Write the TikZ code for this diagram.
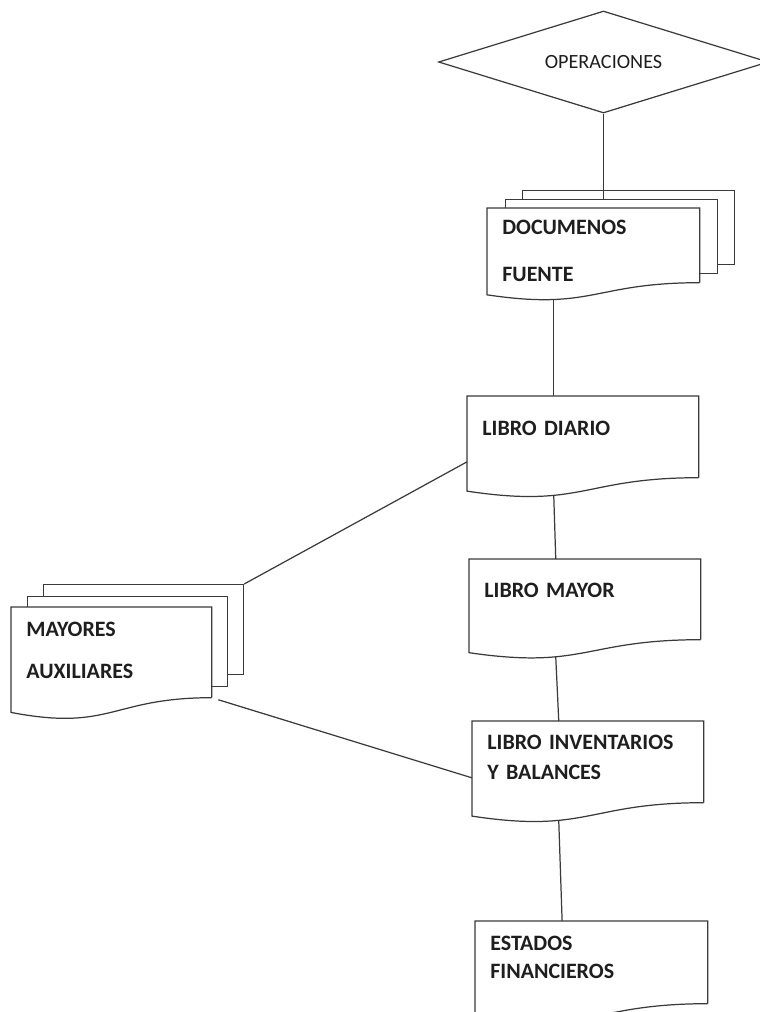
\documentclass[tikz,border=0pt]{standalone}
\usepackage{fontspec}
\setmainfont{Carlito}
\usetikzlibrary{shapes.geometric, calc}
\definecolor{InkK} {HTML}{1E1E1E}
\definecolor{LineG}{HTML}{3A3A3A}
\tikzset{
  opsbox/.style={
    diamond, aspect=3.2, draw=LineG, line width=0.7pt,
    minimum width=6.6cm, minimum height=2.04cm, inner sep=0pt,
    font=\fontsize{11.5}{13}\selectfont, text=InkK,
  },
  lyr/.style args={#1/#2}{
    rectangle, draw=LineG, fill=white, line width=0.7pt,
    anchor=north west, inner sep=0pt,
    minimum width=#1cm, minimum height=#2cm,
  },
  docbox/.style args={#1/#2/#3}{
    rectangle, fill=white, text=InkK,
    font=\bfseries\fontsize{12.5}{15}\selectfont, align=left,
    anchor=north west, inner xsep=0.3cm, inner ysep=0pt,
    text width=#1cm, text height=#2cm, text depth=#3cm,
  },
  conn/.style={
    draw=LineG, line width=0.7pt,
  },
}
% outline of a document box: top, sides and wavy bottom
\newcommand{\docwave}[2]{%
  \draw[conn] (#1.south east) -- (#1.north east) -- (#1.north west)
    -- ($(#1.south west)+(0,{0.433*#2})$)
    .. controls ($(#1.south)+(0,#2)$) and (#1.south) .. (#1.south east);
  \coordinate (#1-w) at ($(#1.south west)!0.3745!(#1.south east)+(0,{0.58*#2})$);
}

\begin{document}
\begin{tikzpicture}[x=0.02cm,y=-0.02cm]
  \useasboundingbox (0,0) rectangle (760,1012);

  \node[opsbox] (ops) at (603.5,62) {OPERACIONES};

  \node[lyr=4.24/1.48] (docs3) at (522,190) {};
  \node[lyr=4.24/1.48] (docs2) at (505,199) {};
  \node[docbox=3.64/0.53/0.95] (docs) at (487,208) {DOCUMENOS\\[11.7pt]FUENTE};
  \docwave{docs}{28}

  \node[docbox=4.02/0.79/0.83] (diario) at (467,396) {LIBRO DIARIO};
  \docwave{diario}{31}
  \node[docbox=4.02/0.77/0.83] (mayor) at (469,559) {LIBRO MAYOR};
  \docwave{mayor}{30}
  \node[docbox=4.02/0.57/1.05] (libinv) at (472,721) {LIBRO INVENTARIOS\\[2pt]Y BALANCES};
  \docwave{libinv}{31}
  \node[docbox=4.04/0.59/1.05] (estados) at (475,921) {ESTADOS\\[1pt]FINANCIEROS};
  \docwave{estados}{31}

  \node[lyr=4.0/1.8] (aux3) at (43,584) {};
  \node[lyr=4.0/1.8] (aux2) at (27,596) {};
  \node[docbox=3.4/0.59/1.21] (aux) at (11,607) {MAYORES\\[8.9pt]AUXILIARES};
  \docwave{aux}{34}

  \draw[conn] (ops.south) -- (ops.south |- docs2.north);
  \draw[conn] (diario-w |- docs-w) -- (diario-w |- diario.north);
  \draw[conn] (diario-w) -- (mayor-w |- mayor.north);
  \draw[conn] (mayor-w) -- (libinv-w |- libinv.north);
  \draw[conn] (libinv-w) -- (estados-w |- estados.north);
  \draw[conn] (aux3.north east) -- ($(diario.west)+(0,25)$);
  \draw[conn, shorten <=4pt] (aux.south east) -- ($(libinv.west)+(0,16)$);
\end{tikzpicture}
\end{document}
